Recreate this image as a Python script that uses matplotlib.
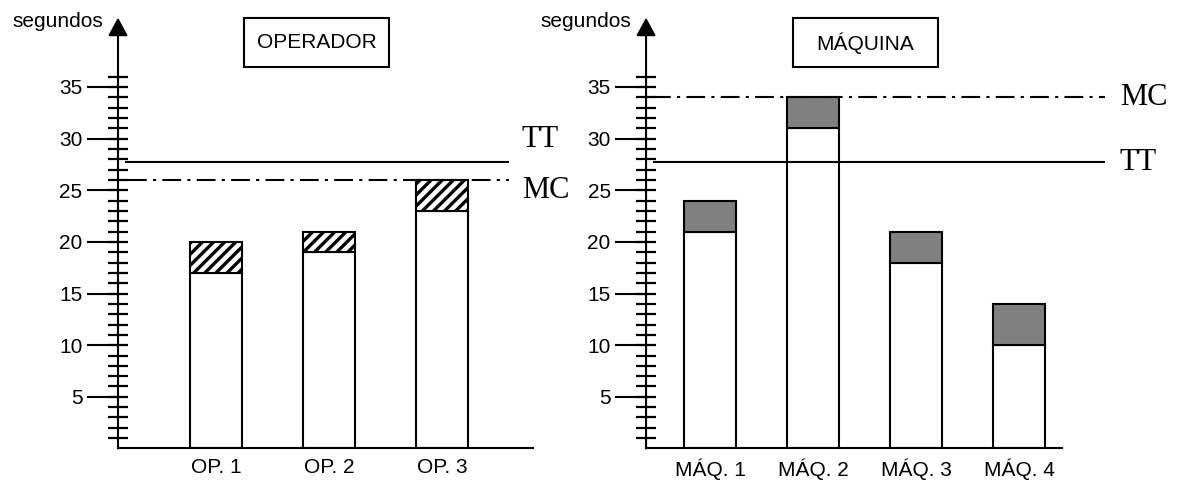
import numpy as np
import matplotlib
matplotlib.use('Agg')
import matplotlib.pyplot as plt
from matplotlib.patches import Rectangle

plt.rcParams['font.family'] = ['Liberation Sans', 'DejaVu Sans']
plt.rcParams['hatch.linewidth'] = 2.4

# operator chart
op_labels = ['OP. 1', 'OP. 2', 'OP. 3']
op_base = [17, 19, 23]
op_extra = [3, 2, 3]
op_tt = 27.7
op_mc = 26

# machine chart
maq_labels = ['MÁQ. 1', 'MÁQ. 2', 'MÁQ. 3', 'MÁQ. 4']
maq_base = [21, 31, 18, 10]
maq_extra = [3, 3, 3, 4]
maq_tt = 27.7
maq_mc = 34

major_ticks = [5, 10, 15, 20, 25, 30, 35]
minor_ticks = list(range(1, 37))

fig = plt.figure(figsize=(11.8, 4.88), dpi=100)
ax1 = fig.add_axes([0.1, 0.081, 0.3517, 0.8827])
ax2 = fig.add_axes([0.5475, 0.081, 0.3525, 0.8827])


def style_axis(ax, xlim):
    ax.set_xlim(*xlim)
    ax.set_ylim(0, 41.7)
    for s in ['left', 'top', 'right']:
        ax.spines[s].set_visible(False)
    ax.spines['bottom'].set_linewidth(1.5)
    ax.annotate('', xy=(0, 1), xycoords='axes fraction', xytext=(0, 0),
                textcoords='axes fraction',
                arrowprops=dict(arrowstyle='-|>,head_length=0.55,head_width=0.3',
                                color='black', lw=1.5, mutation_scale=20,
                                shrinkA=0, shrinkB=0))
    ax.yaxis.remove_overlapping_locs = False
    ax.set_yticks(major_ticks)
    ax.set_yticks(minor_ticks, minor=True)
    ax.tick_params(axis='y', which='major', direction='out', length=22,
                   width=1.5, pad=3.5, labelsize=15)
    ax.tick_params(axis='y', which='minor', direction='inout', length=15,
                   width=1.6)
    ax.tick_params(axis='x', length=0, pad=7, labelsize=15)
    ax.annotate('segundos', xy=(0, 1), xycoords='axes fraction',
                xytext=(-11, -3), textcoords='offset points',
                ha='right', va='center', fontsize=15)


# left panel
x1 = np.arange(len(op_labels))
style_axis(ax1, (-0.867, 2.80))
ax1.bar(x1, op_base, width=0.46, color='white', edgecolor='black', lw=1.5)
ax1.bar(x1, op_extra, bottom=op_base, width=0.46, color='white',
        edgecolor='black', lw=1.5, hatch='///')
ax1.set_xticks(x1, op_labels)
ax1.hlines(op_tt, -0.805, 2.584, color='black', lw=1.5, zorder=4)
ax1.hlines(op_mc, -0.78, 2.584, color='black', lw=1.5, zorder=4,
           linestyles=[(0, (9, 3, 1.5, 3))])
ax1.text(2.70, op_tt + 2.2, 'TT', family='Liberation Serif', fontsize=22,
         va='center', ha='left')
ax1.text(2.70, op_mc - 1.0, 'MC', family='Liberation Serif', fontsize=22,
         va='center', ha='left')

# right panel
x2 = np.arange(len(maq_labels))
style_axis(ax2, (-0.621, 3.417))
ax2.bar(x2, maq_base, width=0.505, color='white', edgecolor='black', lw=1.5)
ax2.bar(x2, maq_extra, bottom=maq_base, width=0.505, color='#808080',
        edgecolor='black', lw=1.5)
ax2.set_xticks(x2, maq_labels)
ax2.hlines(maq_tt, -0.553, 3.835, color='black', lw=1.5, zorder=4,
           clip_on=False)
ax2.hlines(maq_mc, -0.56, 3.835, color='black', lw=1.5, zorder=4,
           linestyles=[(0, (9, 3, 1.5, 3))], clip_on=False)
ax2.text(3.98, maq_mc, 'MC', family='Liberation Serif', fontsize=22,
         va='center', ha='left')
ax2.text(3.98, maq_tt, 'TT', family='Liberation Serif', fontsize=22,
         va='center', ha='left')

# boxed titles
for cx, title in [(316.5, 'OPERADOR'), (865, 'MÁQUINA')]:
    w, h = 145, 49
    fig.patches.append(Rectangle(((cx - w / 2) / 1180, 1 - 67 / 488),
                                 w / 1180, h / 488, transform=fig.transFigure,
                                 facecolor='white', edgecolor='black', lw=1.5))
    fig.text(cx / 1180, 1 - 43 / 488, title, ha='center', va='center',
             fontsize=15)

fig.savefig('out.png', dpi=100)
